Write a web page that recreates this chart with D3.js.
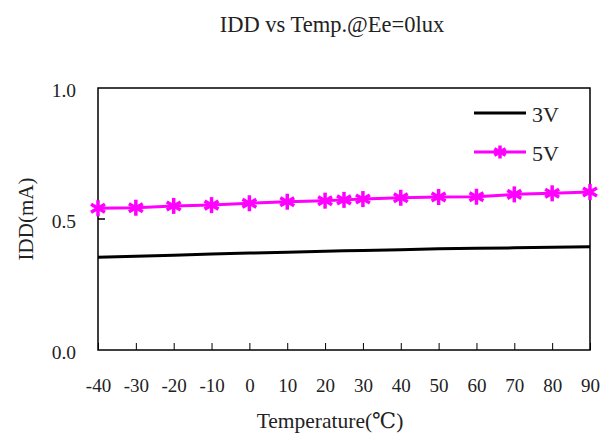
<!DOCTYPE html>
<html>
<head>
<meta charset="utf-8">
<script src="https://cdn.jsdelivr.net/npm/d3@7"></script>
<style>
  body { margin: 0; background: #fff; }
  text { font-family: "Liberation Serif", "DejaVu Serif", serif; fill: #222; }
</style>
</head>
<body>
<svg id="chart" width="610" height="435"></svg>
<script>
var temps = [-40, -30, -20, -10, 0, 10, 20, 25, 30, 40, 50, 60, 70, 80, 90]
var idd3V = [0.354, 0.358, 0.362, 0.366, 0.370, 0.373, 0.377, 0.379, 0.380, 0.383, 0.386, 0.388, 0.390, 0.392, 0.394]
var idd5V = [0.541, 0.543, 0.550, 0.553, 0.560, 0.566, 0.570, 0.573, 0.576, 0.581, 0.584, 0.585, 0.594, 0.598, 0.603]
var xTicks = [-40, -30, -20, -10, 0, 10, 20, 30, 40, 50, 60, 70, 80, 90]
var yTicks = [0, 0.5, 1.0]
var seriesNames = ['3V', '5V']

var margin = {top: 88, right: 20, bottom: 85, left: 98},
    width = 610 - margin.left - margin.right,
    height = 435 - margin.top - margin.bottom

var svg = d3.select('#chart')

var x = d3.scaleLinear().domain([-40, 90]).range([0, width])
var y = d3.scaleLinear().domain([0, 1]).range([height, 0])

var g = svg.append('g')
  .attr('transform', 'translate(' + margin.left + ',' + margin.top + ')')

// title
svg.append('text')
  .attr('x', 332)
  .attr('y', 32)
  .attr('text-anchor', 'middle')
  .style('font-size', '22.5px')
  .text('IDD vs Temp.@Ee=0lux')

// frame
g.append('rect')
  .attr('width', width)
  .attr('height', height)
  .attr('fill', 'none')
  .attr('stroke', '#000')
  .attr('stroke-width', 1.5)

// x ticks (inward), hyphen minus like the original
var xAxis = g.append('g')
  .attr('transform', 'translate(0,' + height + ')')
  .call(d3.axisBottom(x).tickValues(xTicks).tickFormat(function(d) {return String(d)})
    .tickSizeInner(-7).tickSizeOuter(0).tickPadding(29))
xAxis.select('.domain').remove()
xAxis.selectAll('line').attr('stroke', '#000')
xAxis.selectAll('text').style('font-size', '19px').attr('font-family', null)

// y ticks
var yAxis = g.append('g')
  .call(d3.axisLeft(y).tickValues(yTicks).tickFormat(d3.format('.1f')).tickSizeInner(0).tickSizeOuter(0).tickPadding(22))
yAxis.select('.domain').remove()
yAxis.selectAll('text').style('font-size', '19.5px').attr('font-family', null).attr('dy', '0.42em')
g.append('line')
  .attr('x1', 0).attr('x2', 7)
  .attr('y1', y(0.5)).attr('y2', y(0.5))
  .attr('stroke', '#000').attr('stroke-width', 1.5)

// axis titles
svg.append('text')
  .attr('x', 330)
  .attr('y', 428)
  .attr('text-anchor', 'middle')
  .style('font-size', '21.5px')
  .text('Temperature(℃)')

svg.append('text')
  .attr('transform', 'translate(33,' + (margin.top + height / 2) + ') rotate(-90)')
  .attr('text-anchor', 'middle')
  .style('font-size', '21px')
  .text('IDD(mA)')

var line = d3.line()
  .x(function(d) {return x(d[0])})
  .y(function(d) {return y(d[1])})

var data3 = temps.map(function(t, i) {return [t, idd3V[i]]})
var data5 = temps.map(function(t, i) {return [t, idd5V[i]]})

g.append('path')
  .datum(data3)
  .attr('d', line)
  .attr('fill', 'none')
  .attr('stroke', '#000')
  .attr('stroke-width', 3)

g.append('path')
  .datum(data5)
  .attr('d', line)
  .attr('fill', 'none')
  .attr('stroke', '#ff00ff')
  .attr('stroke-width', 3)

// asterisk marker
function star(sel, r) {
  var arms = [[0, -r, 0, r], [-r * 0.87, -r * 0.5, r * 0.87, r * 0.5], [-r * 0.87, r * 0.5, r * 0.87, -r * 0.5]]
  arms.forEach(function(a) {
    sel.append('line')
      .attr('x1', a[0]).attr('y1', a[1])
      .attr('x2', a[2]).attr('y2', a[3])
      .attr('stroke', '#ff00ff')
      .attr('stroke-width', 3.5)
  })
}

g.selectAll('.pt5')
  .data(data5)
  .enter()
  .append('g')
  .attr('class', 'pt5')
  .attr('transform', function(d) {return 'translate(' + x(d[0]) + ',' + y(d[1]) + ')'})
  .each(function() {star(d3.select(this), 8)})

// legend
var legend = svg.append('g')
var legY = [113, 152]
legend.append('line')
  .attr('x1', 474).attr('x2', 526)
  .attr('y1', legY[0]).attr('y2', legY[0])
  .attr('stroke', '#000').attr('stroke-width', 3)
legend.append('line')
  .attr('x1', 474).attr('x2', 526)
  .attr('y1', legY[1]).attr('y2', legY[1])
  .attr('stroke', '#ff00ff').attr('stroke-width', 3)
star(legend.append('g').attr('transform', 'translate(500,' + legY[1] + ')'), 6.5)
legend.selectAll('.legtext')
  .data(seriesNames)
  .enter()
  .append('text')
  .attr('x', 532)
  .attr('y', function(d, i) {return legY[i] + 9})
  .style('font-size', '22px')
  .text(function(d) {return d})
</script>
</body>
</html>
